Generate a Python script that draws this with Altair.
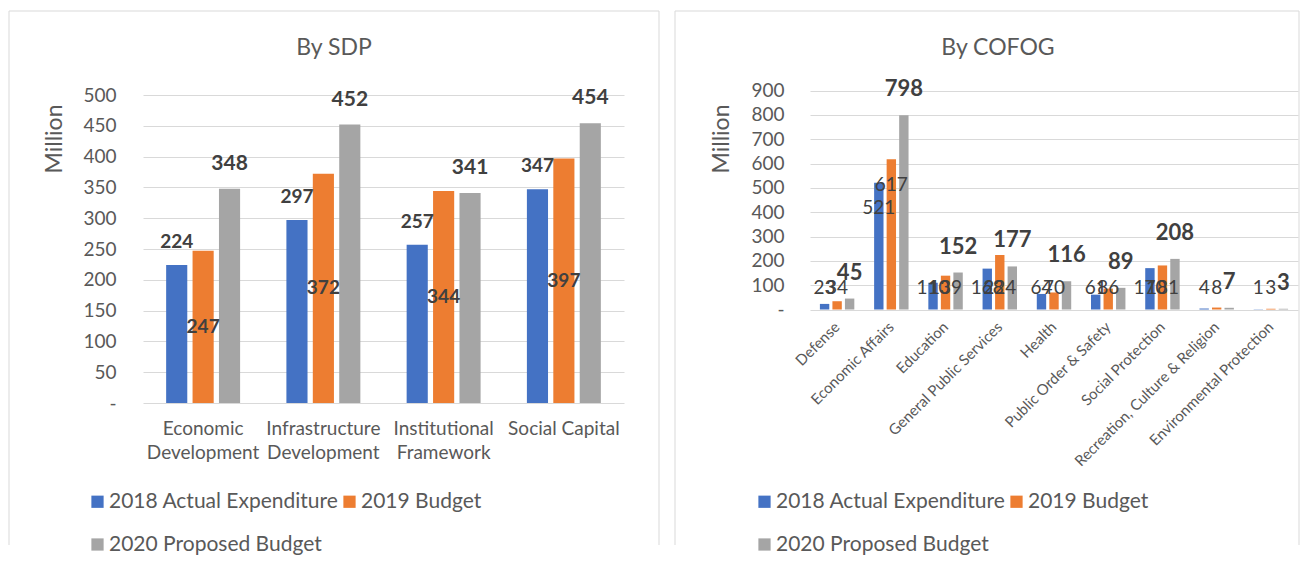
import altair as alt
import pandas as pd

series = ["2018 Actual Expenditure", "2019 Budget", "2020 Proposed Budget"]
colors = ["#4472C4", "#ED7D31", "#A5A5A5"]

sdp_categories = ["Economic Development", "Infrastructure Development",
                  "Institutional Framework", "Social Capital"]
sdp_2018 = [224, 297, 257, 347]
sdp_2019 = [247, 372, 344, 397]
sdp_2020 = [348, 452, 341, 454]

cofog_categories = ["Defense", "Economic Affairs", "Education",
                    "General Public Services", "Health", "Public Order & Safety",
                    "Social Protection", "Recreation, Culture & Religion",
                    "Environmental Protection"]
cofog_2018 = [23, 521, 110, 168, 64, 61, 170, 4, 1]
cofog_2019 = [34, 617, 139, 224, 70, 86, 181, 8, 3]
cofog_2020 = [45, 798, 152, 177, 116, 89, 208, 7, 3]

sdp_ticks = list(range(0, 501, 50))
cofog_ticks = list(range(0, 901, 100))

TXT = "#595959"
LBL = "#404040"
GRID = "#d9d9d9"
FONT = "Lato"


def long_df(cats, a, b, c):
    rows = []
    for i, cat in enumerate(cats):
        for s, vals in zip(series, (a, b, c)):
            rows.append({"category": cat, "series": s, "value": vals[i]})
    return pd.DataFrame(rows)


one = pd.DataFrame({"k": [0]})


def frame(left, top, right, bottom):
    base = alt.Chart(one).mark_rule(color=GRID, strokeWidth=1)
    return [
        base.encode(x=alt.value(left), y=alt.value(top), y2=alt.value(bottom)),
        base.encode(x=alt.value(right), y=alt.value(top), y2=alt.value(bottom)),
        base.encode(x=alt.value(left), x2=alt.value(right), y=alt.value(top)),
    ]


def legend(lx, ly):
    return alt.Legend(title=None, orient="none", legendX=lx, legendY=ly,
                      direction="horizontal", columns=2, symbolType="square",
                      symbolSize=150, symbolStrokeWidth=0, labelFontSize=21,
                      labelColor=TXT, labelFont=FONT, columnPadding=0,
                      rowPadding=21, labelOffset=1, labelLimit=400, padding=0)


def yaxis(ticks, pad):
    return alt.Axis(values=ticks, title="Million", ticks=False, domain=False,
                    labelFontSize=19, labelColor=TXT, labelPadding=pad,
                    labelOverlap=False, gridColor=GRID, grid=True,
                    labelExpr="datum.value == 0 ? '-\u00a0\u00a0\u00a0' : datum.label",
                    titleFontSize=23, titleColor=TXT, titleFontWeight="normal",
                    titleAngle=270, titleAlign="right", titleBaseline="middle",
                    titleX=-89, titleY=9)


# ---------------- Left: By SDP ----------------
df1 = long_df(sdp_categories, sdp_2018, sdp_2019, sdp_2020)

x1 = alt.X("category:N", sort=sdp_categories,
           scale=alt.Scale(paddingInner=0.385, paddingOuter=0.1925),
           axis=alt.Axis(title=None, ticks=False, domain=False, labelAngle=0,
                         labelFontSize=19, labelColor=TXT, labelPadding=16,
                         labelLineHeight=24, labelLimit=300,
                         labelExpr="datum.label == 'Social Capital' ? datum.label : split(datum.label, ' ')"))
xo1 = alt.XOffset("series:N", sort=series,
                  scale=alt.Scale(paddingInner=0.2, paddingOuter=0))
sc1 = alt.Scale(domain=[0, 500], nice=False)
ax1 = yaxis(sdp_ticks, 27)
c1 = alt.Color("series:N", sort=series,
               scale=alt.Scale(domain=series, range=colors),
               legend=legend(-56, 396))

base1 = alt.Chart(df1)
bars1 = base1.mark_bar().encode(
    x=x1, xOffset=xo1, y=alt.Y("value:Q", scale=sc1, axis=ax1), color=c1)
lab1_a = base1.transform_filter(alt.datum.series == series[0]).mark_text(
    dy=-23, fontSize=19, fontWeight="bold", color=LBL).encode(
    x=x1, xOffset=xo1, y=alt.Y("value:Q", scale=sc1, axis=ax1), text="value:Q")
lab1_b = base1.transform_filter(alt.datum.series == series[1]).transform_calculate(
    mid="datum.value / 2").mark_text(
    fontSize=19, fontWeight="bold", color=LBL).encode(
    x=x1, xOffset=xo1, y=alt.Y("mid:Q", scale=sc1, axis=ax1), text="value:Q")
lab1_c = base1.transform_filter(alt.datum.series == series[2]).mark_text(
    dy=-25, fontSize=21, fontWeight="bold", color=LBL).encode(
    x=x1, xOffset=xo1, y=alt.Y("value:Q", scale=sc1, axis=ax1), text="value:Q")
title1 = alt.Chart(one).mark_text(text="By SDP", fontSize=23, color=TXT).encode(
    x=alt.value(191), y=alt.value(-47))

left = alt.layer(bars1, lab1_a, lab1_b, lab1_c, title1,
                 *frame(-134, -84, 516, 450)).properties(width=481, height=308)

# ---------------- Right: By COFOG ----------------
df2 = long_df(cofog_categories, cofog_2018, cofog_2019, cofog_2020)

x2 = alt.X("category:N", sort=cofog_categories,
           scale=alt.Scale(paddingInner=0.365, paddingOuter=0.1825),
           axis=alt.Axis(title=None, ticks=False, domain=False, labelAngle=315,
                         labelAlign="right", labelBaseline="middle",
                         labelFontSize=15, labelColor=TXT, labelPadding=14,
                         labelLimit=300))
xo2 = alt.XOffset("series:N", sort=series,
                  scale=alt.Scale(paddingInner=0.25, paddingOuter=0))
sc2 = alt.Scale(domain=[0, 900], nice=False, range=[214.5, -4.5])
ax2 = yaxis(cofog_ticks, 26)
c2 = alt.Color("series:N", sort=series,
               scale=alt.Scale(domain=series, range=colors),
               legend=legend(-56, 396))

base2 = alt.Chart(df2)
bars2 = base2.mark_bar().encode(
    x=x2, xOffset=xo2, y=alt.Y("value:Q", scale=sc2, axis=ax2), color=c2)
lab2_ab = base2.transform_filter(alt.datum.series != series[2]).transform_calculate(
    pos="datum.value > 300 ? datum.value - 105 : 90").mark_text(
    fontSize=19, color=LBL).encode(
    x=x2, xOffset=xo2, y=alt.Y("pos:Q", scale=sc2, axis=ax2), text="value:Q")
lab2_c = base2.transform_filter(alt.datum.series == series[2]).mark_text(
    dy=-26, fontSize=22, fontWeight="bold", color=LBL).encode(
    x=x2, xOffset=xo2, y=alt.Y("value:Q", scale=sc2, axis=ax2), text="value:Q")
title2 = alt.Chart(one).mark_text(text="By COFOG", fontSize=23, color=TXT).encode(
    x=alt.value(188), y=alt.value(-47))

right = alt.layer(bars2, lab2_ab, lab2_c, title2,
                  *frame(-135, -84, 489, 450)).properties(width=488, height=215)

chart = alt.hconcat(left, right, spacing=14).resolve_scale(
    color="independent", xOffset="independent"
).configure(
    font=FONT, padding={"left": 0, "top": 2, "right": 0, "bottom": 0}
).configure_view(stroke=None)

chart.save("out.html", embed_options={"renderer": "svg", "actions": False})
